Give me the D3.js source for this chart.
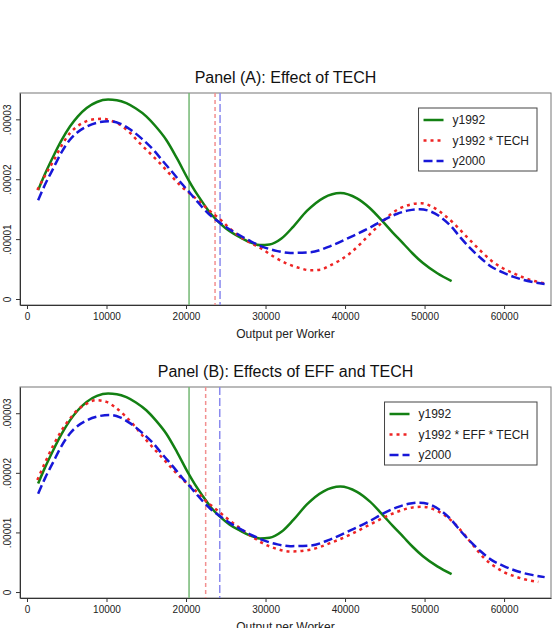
<!DOCTYPE html>
<html lang="en">
<head>
<meta charset="UTF-8">
<title>Effects of EFF and TECH</title>
<script src="https://d3js.org/d3.v7.min.js"></script>
<style>
  body { margin: 0; background: #fff; }
  svg { font-family: "Liberation Sans", Arial, sans-serif; }
</style>
</head>
<body>
<div id="chart"></div>
<script>
// ---- data ----
var xTicks = [0, 10000, 20000, 30000, 40000, 50000, 60000];
var yTicks = [0, 0.00001, 0.00002, 0.00003];
var yTickLabels = ["0", ".00001", ".00002", ".00003"];

// y1992 density
var x1992 = [1400, 2300, 3300, 4300, 5400, 6400, 7500, 8800, 10200, 11300, 12500, 13700, 15000, 16200, 17500, 18900, 20300, 21100, 22000, 23200, 24300, 25500, 26800, 28000, 29300, 30500, 32000, 33500, 35200, 37300, 39400, 41500, 43100, 44700, 46000, 47300, 48500, 49800, 51600, 53400];
var y1992 = [1.82e-5, 2.10e-5, 2.38e-5, 2.64e-5, 2.88e-5, 3.05e-5, 3.19e-5, 3.29e-5, 3.33e-5, 3.32e-5, 3.27e-5, 3.18e-5, 3.05e-5, 2.88e-5, 2.66e-5, 2.34e-5, 1.99e-5, 1.81e-5, 1.63e-5, 1.41e-5, 1.26e-5, 1.13e-5, 1.03e-5, 0.95e-5, 0.90e-5, 0.91e-5, 1.01e-5, 1.21e-5, 1.47e-5, 1.69e-5, 1.77e-5, 1.68e-5, 1.52e-5, 1.30e-5, 1.11e-5, 0.93e-5, 0.76e-5, 0.60e-5, 0.43e-5, 0.30e-5];

// y2000 density
var x2000 = [1400, 2300, 3300, 4300, 5400, 6400, 7500, 9000, 10400, 11700, 13000, 14500, 15900, 17100, 18400, 19500, 20500, 21400, 22200, 23200, 24300, 25500, 26800, 28200, 29500, 31500, 33100, 35600, 38100, 40600, 43100, 44700, 46500, 48000, 49400, 50800, 52000, 53300, 54500, 55800, 57000, 58400, 59900, 61200, 62400, 63800, 65100];
var y2000 = [1.65e-5, 1.92e-5, 2.18e-5, 2.44e-5, 2.66e-5, 2.79e-5, 2.88e-5, 2.95e-5, 2.97e-5, 2.93e-5, 2.83e-5, 2.67e-5, 2.49e-5, 2.30e-5, 2.10e-5, 1.92e-5, 1.77e-5, 1.63e-5, 1.51e-5, 1.38e-5, 1.27e-5, 1.16e-5, 1.06e-5, 0.96e-5, 0.88e-5, 0.80e-5, 0.77e-5, 0.78e-5, 0.88e-5, 1.03e-5, 1.19e-5, 1.31e-5, 1.42e-5, 1.48e-5, 1.50e-5, 1.46e-5, 1.37e-5, 1.22e-5, 1.03e-5, 0.84e-5, 0.69e-5, 0.54e-5, 0.44e-5, 0.37e-5, 0.32e-5, 0.28e-5, 0.25e-5];

// y1992 * TECH density
var xTech = [1300, 2300, 3300, 4300, 5400, 6400, 7500, 8400, 9400, 10500, 11700, 13000, 14200, 15500, 16700, 18000, 19250, 20500, 21760, 23000, 24300, 25500, 26800, 28200, 29500, 31000, 32700, 34200, 35600, 36900, 38100, 39400, 40600, 42000, 43100, 44500, 45600, 47000, 48300, 49600, 51100, 52500, 53700, 54500, 55800, 57000, 58400, 59900, 61200, 62400, 63800, 65100];
var yTech = [1.82e-5, 2.07e-5, 2.30e-5, 2.55e-5, 2.77e-5, 2.89e-5, 2.97e-5, 3.00e-5, 3.01e-5, 2.98e-5, 2.91e-5, 2.77e-5, 2.60e-5, 2.43e-5, 2.27e-5, 2.08e-5, 1.90e-5, 1.76e-5, 1.62e-5, 1.47e-5, 1.33e-5, 1.18e-5, 1.04e-5, 0.93e-5, 0.84e-5, 0.71e-5, 0.59e-5, 0.52e-5, 0.48e-5, 0.49e-5, 0.56e-5, 0.65e-5, 0.76e-5, 0.93e-5, 1.08e-5, 1.26e-5, 1.40e-5, 1.52e-5, 1.58e-5, 1.60e-5, 1.53e-5, 1.40e-5, 1.26e-5, 1.15e-5, 0.97e-5, 0.81e-5, 0.64e-5, 0.51e-5, 0.43e-5, 0.36e-5, 0.30e-5, 0.26e-5];

// y1992 * EFF * TECH density
var xEffTech = [1300, 2300, 3300, 4300, 5400, 6400, 7500, 8600, 10000, 11100, 12300, 13500, 14800, 16000, 17300, 18400, 19400, 20600, 21760, 22400, 23300, 24300, 25500, 26800, 28200, 29500, 31500, 33100, 35600, 38100, 40600, 43100, 45200, 47300, 48500, 49800, 51100, 52400, 53600, 54900, 56200, 57400, 58700, 59900, 61200, 62400, 64300];
var yEffTech = [1.88e-5, 2.18e-5, 2.46e-5, 2.70e-5, 2.91e-5, 3.06e-5, 3.16e-5, 3.22e-5, 3.19e-5, 3.10e-5, 2.96e-5, 2.79e-5, 2.58e-5, 2.40e-5, 2.21e-5, 2.05e-5, 1.91e-5, 1.77e-5, 1.63e-5, 1.54e-5, 1.44e-5, 1.33e-5, 1.20e-5, 1.07e-5, 0.94e-5, 0.83e-5, 0.72e-5, 0.68e-5, 0.71e-5, 0.82e-5, 0.96e-5, 1.13e-5, 1.27e-5, 1.38e-5, 1.42e-5, 1.43e-5, 1.39e-5, 1.30e-5, 1.17e-5, 0.98e-5, 0.77e-5, 0.58e-5, 0.44e-5, 0.34e-5, 0.27e-5, 0.22e-5, 0.17e-5];

// vertical reference lines (means): y1992, counterfactual, y2000
var vlinesA = [20380, 23650, 24280];
var vlinesB = [20380, 22470, 24240];

// ---- styles ----
var W = 559, H = 628;
var green = "#138013", red = "#ee2424", blue = "#1717d8";
var styles = [
  {color: green, dash: null},
  {color: red, dash: "3,4"},
  {color: blue, dash: "9,4"}
];
var vstyles = [
  {color: "#74b874", dash: null},
  {color: "#f29090", dash: "4,3"},
  {color: "#8a8aee", dash: "8,3"}
];

var svg = d3.select("#chart").append("svg")
  .attr("width", W).attr("height", H);
svg.append("rect").attr("width", W).attr("height", H).attr("fill", "#fff");

var zip = function (xs, ys) { return xs.map(function (v, i) { return [v, ys[i]]; }); };

function panel(cfg) {
  var x = d3.scaleLinear().domain([-880, 65900]).range([20, 551]);
  var y = d3.scaleLinear().domain([-0.1e-5, 3.44e-5]).range([cfg.bottom, cfg.top]);
  var g = svg.append("g");

  // title
  g.append("text")
    .attr("x", (20 + 551) / 2).attr("y", cfg.top - 10)
    .attr("text-anchor", "middle")
    .attr("font-size", 16).attr("fill", "#111")
    .text(cfg.title);

  // plot frame
  g.append("rect")
    .attr("x", 20).attr("y", cfg.top)
    .attr("width", 531).attr("height", cfg.bottom - cfg.top)
    .attr("fill", "none").attr("stroke", "#777").attr("stroke-width", 1);

  // vertical lines
  cfg.vlines.forEach(function (v, i) {
    g.append("line")
      .attr("x1", x(v)).attr("x2", x(v))
      .attr("y1", cfg.top).attr("y2", cfg.bottom)
      .attr("stroke", vstyles[i].color)
      .attr("stroke-width", 1.5)
      .attr("stroke-dasharray", vstyles[i].dash);
  });

  // curves
  var line = d3.line()
    .x(function (d) { return x(d[0]); })
    .y(function (d) { return y(d[1]); })
    .curve(d3.curveMonotoneX);

  cfg.series.forEach(function (s, i) {
    g.append("path")
      .datum(s)
      .attr("fill", "none")
      .attr("stroke", styles[i].color)
      .attr("stroke-width", 2.5)
      .attr("stroke-dasharray", styles[i].dash)
      .attr("d", line);
  });

  // x axis
  var xa = g.append("g")
    .attr("transform", "translate(0," + cfg.bottom + ")")
    .call(d3.axisBottom(x).tickValues(xTicks).tickFormat(d3.format("d")).tickSize(4).tickPadding(4).tickSizeOuter(0));
  xa.select(".domain").attr("stroke", "#333");
  xa.selectAll(".tick line").attr("stroke", "#333");
  xa.selectAll("text").attr("font-size", 10).attr("fill", "#222")
    .attr("font-family", "Liberation Sans, Arial, sans-serif");

  g.append("text")
    .attr("x", (20 + 551) / 2).attr("y", cfg.bottom + 33)
    .attr("text-anchor", "middle")
    .attr("font-size", 12).attr("fill", "#222")
    .text("Output per Worker");

  // y axis
  var ya = g.append("g")
    .attr("transform", "translate(20,0)")
    .call(d3.axisLeft(y).tickValues(yTicks)
      .tickFormat(function (d, i) { return yTickLabels[i]; })
      .tickSize(4).tickSizeOuter(0));
  ya.select(".domain").attr("stroke", "#333");
  ya.selectAll(".tick line").attr("stroke", "#333");
  ya.selectAll("text")
    .attr("font-size", 10).attr("fill", "#222")
    .attr("font-family", "Liberation Sans, Arial, sans-serif")
    .attr("transform", "rotate(-90)")
    .attr("x", 0).attr("y", -9).attr("dy", 0)
    .attr("text-anchor", "middle");

  // legend
  var labels = ["y1992", cfg.redLabel, "y2000"];
  var lg = g.append("g");
  var box = lg.append("rect");
  var texts = labels.map(function (t, i) {
    return lg.append("text").attr("font-size", 12).attr("fill", "#222").text(t);
  });
  var maxw = d3.max(texts, function (t) { return t.node().getComputedTextLength(); });
  var right = 537, top = cfg.top + 15, rowH = 20.5;
  var tx = right - 8 - maxw;
  texts.forEach(function (t, i) {
    var cy = top + 12 + i * rowH;
    t.attr("x", tx).attr("y", cy + 4);
    lg.append("line")
      .attr("x1", tx - 29).attr("x2", tx - 9)
      .attr("y1", cy).attr("y2", cy)
      .attr("stroke", styles[i].color)
      .attr("stroke-width", 2.5)
      .attr("stroke-dasharray", styles[i].dash);
  });
  box.attr("x", tx - 34).attr("y", top)
    .attr("width", right - (tx - 34)).attr("height", 63)
    .attr("fill", "#fff").attr("stroke", "#444").attr("stroke-width", 1);
}

panel({
  top: 93, bottom: 305,
  title: "Panel (A): Effect of TECH",
  redLabel: "y1992 * TECH",
  series: [zip(x1992, y1992), zip(xTech, yTech), zip(x2000, y2000)],
  vlines: vlinesA
});

panel({
  top: 387, bottom: 598,
  title: "Panel (B): Effects of EFF and TECH",
  redLabel: "y1992 * EFF * TECH",
  series: [zip(x1992, y1992), zip(xEffTech, yEffTech), zip(x2000, y2000)],
  vlines: vlinesB
});
</script>
</body>
</html>
